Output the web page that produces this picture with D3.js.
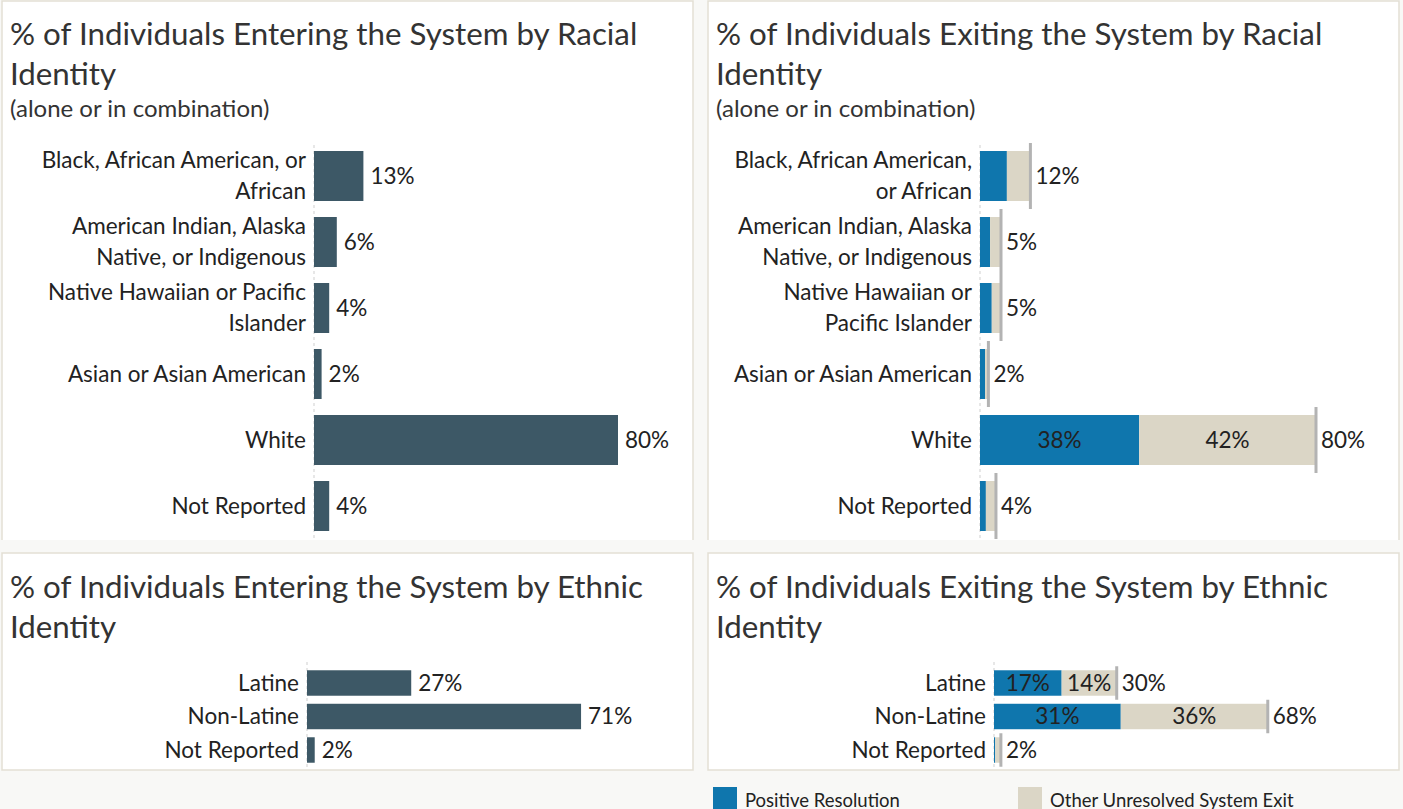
<!DOCTYPE html>
<html>
<head>
<meta charset="utf-8">
<script src="https://cdn.jsdelivr.net/npm/d3@7"></script>
<style>
  body { margin: 0; background: #f8f8f6; }
  svg { display: block; font-family: Lato, "Open Sans", sans-serif; }
</style>
</head>
<body>
<div id="chart"></div>
<script>
// ---- data ----
const raceCategories = [
  "Black, African American, or African",
  "American Indian, Alaska Native, or Indigenous",
  "Native Hawaiian or Pacific Islander",
  "Asian or Asian American",
  "White",
  "Not Reported",
];
// label line breaks differ between the two panels
const raceLabelsEnter = [
  ["Black, African American, or", "African"],
  ["American Indian, Alaska", "Native, or Indigenous"],
  ["Native Hawaiian or Pacific", "Islander"],
  ["Asian or Asian American"],
  ["White"],
  ["Not Reported"],
];
const raceLabelsExit = [
  ["Black, African American,", "or African"],
  ["American Indian, Alaska", "Native, or Indigenous"],
  ["Native Hawaiian or", "Pacific Islander"],
  ["Asian or Asian American"],
  ["White"],
  ["Not Reported"],
];
const raceEnter = [13, 6, 4, 2, 80, 4];
const raceExitPositive = [6.4, 2.4, 2.8, 1.2, 37.9, 1.4];
const raceExitOther = [5.6, 2.6, 2.2, 0.8, 42.1, 2.4];

const ethCategories = ["Latine", "Non-Latine", "Not Reported"];
const ethEnter = [27, 71, 2];
const ethExitPositive = [16.7, 31.3, 0.3];
const ethExitOther = [13.6, 36.3, 1.4];

const seriesNames = ["Positive Resolution", "Other Unresolved System Exit"];

// ---- styling ----
const W = 1403, H = 809;
const colEnter = "#3d5866";
const colPositive = "#0f76ad";
const colOther = "#dbd6c6";
const colTotal = "#b3b3b3";
const colText = "#222";
const colTitle = "#333";
const fmt = d3.format(".0f");
const labelSize = 22.5;

const svg = d3.select("#chart").append("svg")
  .attr("width", W)
  .attr("height", H);

svg.append("rect").attr("width", W).attr("height", H).attr("fill", "#f8f8f6");

// panels: top ones run off the bottom edge (no bottom border)
const panels = [
  { x0: 2, y0: 1, x1: 693, y1: 540, open: true },
  { x0: 708, y0: 1, x1: 1399, y1: 540, open: true },
  { x0: 2, y0: 553, x1: 693, y1: 770, open: false },
  { x0: 708, y0: 553, x1: 1399, y1: 770, open: false },
];
panels.forEach((p) => {
  svg.append("rect")
    .attr("x", p.x0).attr("y", p.y0)
    .attr("width", p.x1 - p.x0).attr("height", p.y1 - p.y0)
    .attr("fill", "#fff");
  const path = p.open
    ? `M${p.x0},${p.y1}V${p.y0}H${p.x1}V${p.y1}`
    : `M${p.x0},${p.y0}H${p.x1}V${p.y1}H${p.x0}Z`;
  svg.append("path")
    .attr("d", path)
    .attr("fill", "none")
    .attr("stroke", "#e3e0d5")
    .attr("stroke-width", 1.5);
});

function title(x, y, lines, sub) {
  const g = svg.append("g").attr("fill", colTitle);
  lines.forEach((t, i) => {
    g.append("text")
      .attr("x", x).attr("y", y + i * 39.5)
      .style("font-size", "31.3px")
      .text(t);
  });
  if (sub) {
    g.append("text")
      .attr("x", x).attr("y", y + 72)
      .style("font-size", "24px")
      .text(sub);
  }
}

title(10, 45, ["% of Individuals Entering the System by Racial", "Identity"], "(alone or in combination)");
title(716, 45, ["% of Individuals Exiting the System by Racial", "Identity"], "(alone or in combination)");
title(10, 598, ["% of Individuals Entering the System by Ethnic", "Identity"]);
title(716, 598, ["% of Individuals Exiting the System by Ethnic", "Identity"]);

// generic horizontal bar panel
function barPanel(opt) {
  const x = d3.scaleLinear().domain([0, 100]).range([opt.axisX, opt.rightX]);
  const y = d3.scaleBand()
    .domain(opt.categories)
    .range(opt.yRange)
    .paddingInner(opt.pad)
    .paddingOuter(opt.pad / 2);
  const g = svg.append("g");

  // dashed zero line
  g.append("line")
    .attr("x1", x(0)).attr("x2", x(0))
    .attr("y1", opt.lineY[0]).attr("y2", opt.lineY[1])
    .attr("stroke", "#cfcfcf")
    .attr("stroke-dasharray", "3,3");

  // category labels
  const lab = g.selectAll("text.cat")
    .data(opt.categories)
    .join("text")
    .attr("class", "cat")
    .attr("text-anchor", "end")
    .attr("fill", colText)
    .style("font-size", labelSize + "px");
  lab.each(function (d, i) {
    const lines = opt.labels[i];
    const cy = y(d) + y.bandwidth() / 2;
    const first = cy + 7.5 - ((lines.length - 1) * opt.lineH) / 2;
    d3.select(this).selectAll("tspan")
      .data(lines)
      .join("tspan")
      .attr("x", opt.axisX - 8)
      .attr("y", (t, j) => first + j * opt.lineH)
      .text((t) => t);
  });

  if (opt.values) {
    g.selectAll("rect.bar")
      .data(opt.categories)
      .join("rect")
      .attr("class", "bar")
      .attr("x", x(0))
      .attr("y", (d) => y(d))
      .attr("width", (d, i) => x(opt.values[i]) - x(0))
      .attr("height", y.bandwidth())
      .attr("fill", colEnter);
    g.selectAll("text.val")
      .data(opt.categories)
      .join("text")
      .attr("class", "val")
      .attr("x", (d, i) => x(opt.values[i]) + 7)
      .attr("y", (d) => y(d) + y.bandwidth() / 2 + 7.5)
      .attr("fill", colText)
      .style("font-size", labelSize + "px")
      .text((d, i) => fmt(opt.values[i]) + "%");
  } else {
    const rows = opt.categories.map((c, i) => ({
      cat: c,
      positive: opt.positive[i],
      other: opt.other[i],
    }));
    const stack = d3.stack().keys(["positive", "other"])(rows);
    const colors = { positive: colPositive, other: colOther };
    const ext = (y.step() * opt.pad) / 2;

    stack.forEach((s) => {
      g.selectAll(null)
        .data(s)
        .join("rect")
        .attr("x", (d) => x(d[0]))
        .attr("y", (d) => y(d.data.cat))
        .attr("width", (d) => x(d[1]) - x(d[0]))
        .attr("height", y.bandwidth())
        .attr("fill", colors[s.key]);
      // segment labels only where there is room
      g.selectAll(null)
        .data(s.filter((d) => x(d[1]) - x(d[0]) > 50))
        .join("text")
        .attr("x", (d) => (x(d[0]) + x(d[1])) / 2)
        .attr("y", (d) => y(d.data.cat) + y.bandwidth() / 2 + 7.5)
        .attr("text-anchor", "middle")
        .attr("fill", colText)
        .style("font-size", labelSize + "px")
        .text((d) => fmt(d[1] - d[0]) + "%");
    });

    // total markers
    g.selectAll("line.tot")
      .data(rows)
      .join("line")
      .attr("class", "tot")
      .attr("x1", (d) => x(d.positive + d.other))
      .attr("x2", (d) => x(d.positive + d.other))
      .attr("y1", (d) => y(d.cat) - ext)
      .attr("y2", (d) => y(d.cat) + y.bandwidth() + ext)
      .attr("stroke", colTotal)
      .attr("stroke-width", 3);
    g.selectAll("text.tot")
      .data(rows)
      .join("text")
      .attr("class", "tot")
      .attr("x", (d) => x(d.positive + d.other) + 5)
      .attr("y", (d) => y(d.cat) + y.bandwidth() / 2 + 7.5)
      .attr("fill", colText)
      .style("font-size", labelSize + "px")
      .text((d) => fmt(d.positive + d.other) + "%");
  }
}

barPanel({
  categories: raceCategories, labels: raceLabelsEnter, values: raceEnter,
  axisX: 314, rightX: 694, yRange: [143, 539], pad: 16 / 66,
  lineY: [145, 540], lineH: 30.5,
});
barPanel({
  categories: raceCategories, labels: raceLabelsExit,
  positive: raceExitPositive, other: raceExitOther,
  axisX: 980, rightX: 1400, yRange: [143, 539], pad: 16 / 66,
  lineY: [145, 540], lineH: 30.5,
});
barPanel({
  categories: ethCategories, labels: ethCategories.map((c) => [c]), values: ethEnter,
  axisX: 307, rightX: 693, yRange: [666.25, 766.75], pad: 0.24,
  lineY: [662, 770], lineH: 30.5,
});
barPanel({
  categories: ethCategories, labels: ethCategories.map((c) => [c]),
  positive: ethExitPositive, other: ethExitOther,
  axisX: 994, rightX: 1399, yRange: [666.25, 766.75], pad: 0.24,
  lineY: [662, 770], lineH: 30.5,
});

// legend
const legend = svg.append("g")
  .selectAll("g")
  .data(seriesNames)
  .join("g")
  .attr("transform", (d, i) => `translate(${[713, 1018][i]},787)`);
legend.append("rect")
  .attr("width", 24).attr("height", 22)
  .attr("fill", (d, i) => [colPositive, colOther][i]);
legend.append("text")
  .attr("x", 32).attr("y", 19.5)
  .attr("fill", colText)
  .style("font-size", "18.5px")
  .text((d) => d);
</script>
</body>
</html>
